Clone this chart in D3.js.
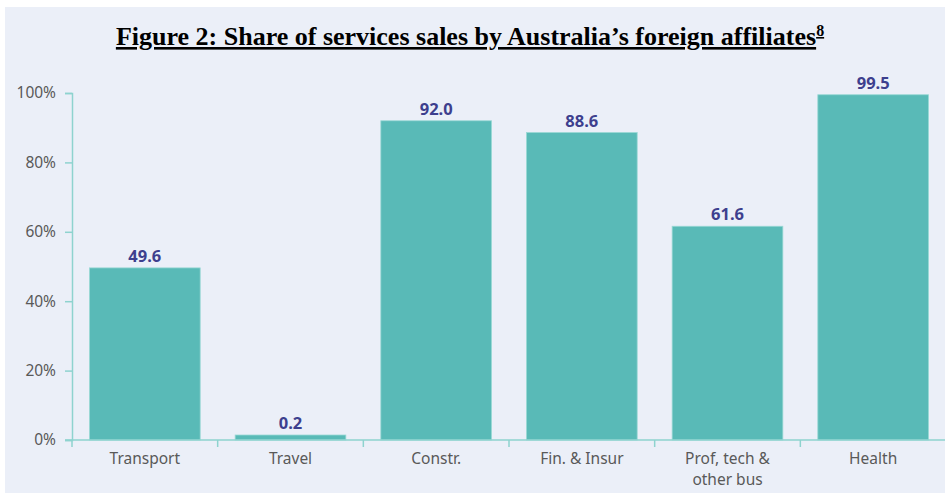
<!DOCTYPE html>
<meta charset="utf-8">
<style>
  body { margin: 0; background: #fff; }
  .title { font-family: "Liberation Serif", "Times New Roman", serif; font-weight: bold; }
  .tick text { font-family: "Noto Sans", sans-serif; font-size: 15.5px; fill: #595959; }
  .value { font-family: "Noto Sans", sans-serif; font-size: 16.5px; font-weight: bold; fill: #3d3f8e; }
</style>
<script src="https://d3js.org/d3.v7.min.js"></script>
<body>
<script>
// values
var categories = ["Transport", "Travel", "Constr.", "Fin. & Insur", "Prof, tech & other bus", "Health"];
var values = [49.6, 0.2, 92.0, 88.6, 61.6, 99.5];
var yTicks = [0, 20, 40, 60, 80, 100];

var width = 945, height = 494;
var margin = {top: 93, right: -1, bottom: 54, left: 72};

var svg = d3.select("body").append("svg")
    .attr("width", width)
    .attr("height", height);

// light panel behind the chart
svg.append("rect")
    .attr("x", 5).attr("y", 7)
    .attr("width", width - 5).attr("height", height - 8)
    .attr("fill", "#ebeff8");

var title = svg.append("text")
    .attr("class", "title")
    .attr("x", 470).attr("y", 45)
    .attr("text-anchor", "middle")
    .attr("font-size", "26px")
    .attr("fill", "#000")
    .attr("text-decoration", "underline");
title.append("tspan").text("Figure 2: Share of services sales by Australia\u2019s foreign affiliates");
title.append("tspan").attr("dy", -9).attr("font-size", "16px").text("8");

var x = d3.scaleBand()
    .domain(categories)
    .range([margin.left, width - margin.right])
    .paddingInner(0.24)
    .paddingOuter(0.12);

var y = d3.scaleLinear()
    .domain([0, 100])
    .range([height - margin.bottom, margin.top]);

var axisColor = "#8ed3cf";

// y axis
var yAxis = svg.append("g")
    .attr("transform", "translate(" + margin.left + ",0)")
    .call(d3.axisLeft(y).tickValues(yTicks).tickFormat(function(d) { return d + "%"; }).tickSize(7).tickPadding(9));
yAxis.selectAll("path, line").attr("stroke", axisColor).attr("stroke-width", 1.5);

// bars (tiny values kept visible, as in the source chart)
function barTop(d) { return Math.min(y(d), y(0) - 5); }

svg.selectAll(".bar")
    .data(values)
    .enter().append("rect")
    .attr("class", "bar")
    .attr("x", function(d, i) { return x(categories[i]); })
    .attr("y", barTop)
    .attr("width", x.bandwidth())
    .attr("height", function(d) { return y(0) - barTop(d); })
    .attr("fill", "#59bab7")
    .attr("stroke", "#9ad9d5")
    .attr("stroke-width", 0.8);

svg.selectAll(".value")
    .data(values)
    .enter().append("text")
    .attr("class", "value")
    .attr("x", function(d, i) { return x(categories[i]) + x.bandwidth() / 2; })
    .attr("y", function(d) { return barTop(d) - 6; })
    .attr("text-anchor", "middle")
    .text(function(d) { return d.toFixed(1); });

// x axis: ticks sit between categories
var step = x.step();
var xAxis = svg.append("g")
    .attr("transform", "translate(0," + y(0) + ")");
xAxis.append("line")
    .attr("x1", margin.left - 7).attr("x2", width)
    .attr("stroke", axisColor).attr("stroke-width", 1.5);
xAxis.selectAll(".sep")
    .data(d3.range(categories.length + 1))
    .enter().append("line")
    .attr("x1", function(i) { return margin.left + i * step; })
    .attr("x2", function(i) { return margin.left + i * step; })
    .attr("y1", 0).attr("y2", 7)
    .attr("stroke", axisColor).attr("stroke-width", 1.5);

var labels = xAxis.selectAll(".tick")
    .data(categories)
    .enter().append("g")
    .attr("class", "tick")
    .attr("transform", function(d) { return "translate(" + (x(d) + x.bandwidth() / 2) + ",0)"; })
    .append("text")
    .attr("text-anchor", "middle");
labels.each(function(d) {
    var lines = d === "Prof, tech & other bus" ? ["Prof, tech &", "other bus"] : [d];
    var t = d3.select(this);
    lines.forEach(function(l, k) {
        t.append("tspan").attr("x", 0).attr("y", 24 + k * 21).text(l);
    });
});
</script>
</body>
